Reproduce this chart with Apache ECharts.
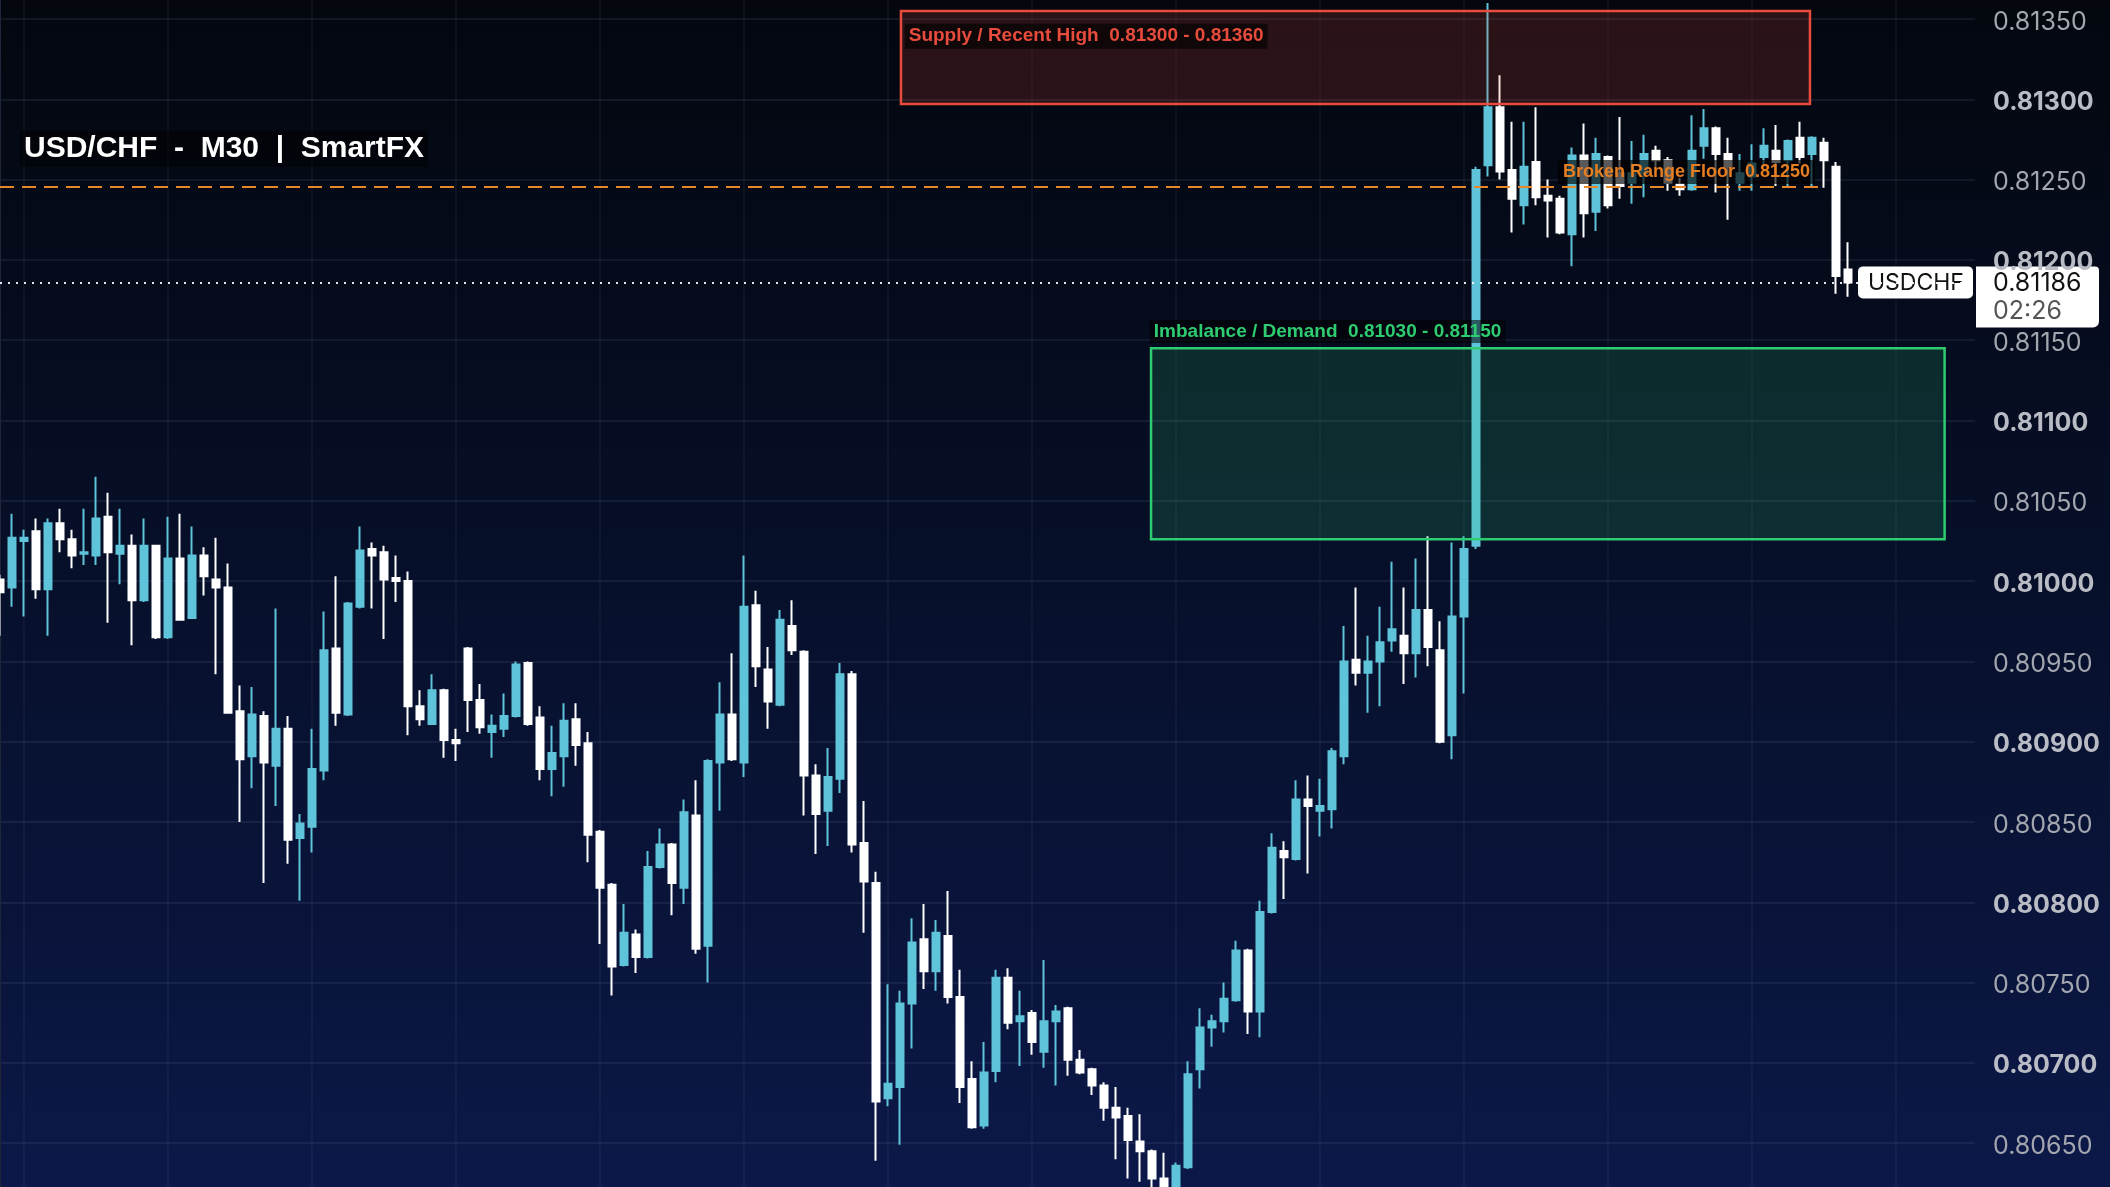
<!DOCTYPE html>
<html><head><meta charset="utf-8">
<script src="https://cdn.jsdelivr.net/npm/echarts/dist/echarts.min.js"></script>
<style>html,body{margin:0;padding:0;background:#04070e;overflow:hidden}#c{width:2110px;height:1187px}</style>
</head><body><div id="c"></div>
<script>
// ---- DATA (USD/CHF M30) ----
const opens = [0.81001,0.80996,0.81025,0.81031,0.80995,0.81036,0.81026,0.81017,0.81016,0.81040,
0.81017,0.81022,0.80988,0.81022,0.80965,0.81014,0.80977,0.81016,0.81001,0.80996,
0.80919,0.80891,0.80916,0.80885,0.80908,0.80840,0.80847,0.80882,0.80958,0.80917,
0.80984,0.81020,0.81018,0.81002,0.81000,0.80922,0.80911,0.80932,0.80901,0.80958,
0.80926,0.80906,0.80908,0.80916,0.80949,0.80915,0.80883,0.80891,0.80914,0.80899,
0.80844,0.80811,0.80761,0.80780,0.80766,0.80822,0.80836,0.80809,0.80854,0.80773,
0.80887,0.80917,0.80887,0.80985,0.80945,0.80923,0.80972,0.80956,0.80879,0.80857,
0.80877,0.80942,0.80837,0.80812,0.80678,0.80685,0.80737,0.80777,0.80757,0.80779,
0.80741,0.80690,0.80661,0.80695,0.80753,0.80726,0.80731,0.80707,0.80726,0.80734,
0.80702,0.80696,0.80686,0.80672,0.80667,0.80651,0.80645,0.80628,0.80615,0.80635,
0.80696,0.80722,0.80726,0.80739,0.80770,0.80732,0.80794,0.80832,0.80827,0.80864,
0.80857,0.80858,0.80891,0.80951,0.80943,0.80950,0.80963,0.80966,0.80955,0.80982,
0.80957,0.80904,0.80978,0.81022,0.81259,0.81295,0.81256,0.81234,0.81261,0.81240,
0.81238,0.81216,0.81265,0.81230,0.81264,0.81254,0.81248,0.81254,0.81268,0.81262,
0.81247,0.81244,0.81271,0.81282,0.81266,0.81248,0.81252,0.81264,0.81268,0.81262,
0.81276,0.81266,0.81273,0.81258,0.81194];
const closes = [0.80993,0.81027,0.81027,0.80995,0.81036,0.81026,0.81016,0.81018,0.81039,0.81018,
0.81022,0.80988,0.81022,0.80965,0.81014,0.80976,0.81016,0.81003,0.80996,0.80918,
0.80889,0.80917,0.80887,0.80908,0.80839,0.80849,0.80883,0.80957,0.80918,0.80986,
0.81019,0.81016,0.81001,0.81000,0.80922,0.80914,0.80932,0.80901,0.80899,0.80926,
0.80909,0.80910,0.80916,0.80948,0.80911,0.80883,0.80893,0.80913,0.80898,0.80842,
0.80809,0.80760,0.80781,0.80766,0.80822,0.80836,0.80812,0.80856,0.80771,0.80888,
0.80917,0.80889,0.80984,0.80947,0.80925,0.80976,0.80957,0.80879,0.80855,0.80878,
0.80942,0.80836,0.80813,0.80676,0.80687,0.80737,0.80775,0.80757,0.80781,0.80741,
0.80685,0.80660,0.80694,0.80753,0.80725,0.80729,0.80713,0.80726,0.80732,0.80702,
0.80694,0.80686,0.80672,0.80666,0.80652,0.80645,0.80628,0.80615,0.80636,0.80693,
0.80722,0.80726,0.80740,0.80770,0.80732,0.80794,0.80834,0.80828,0.80864,0.80860,
0.80860,0.80894,0.80950,0.80943,0.80950,0.80962,0.80970,0.80955,0.80982,0.80959,
0.80900,0.80978,0.81020,0.81256,0.81295,0.81255,0.81238,0.81258,0.81239,0.81237,
0.81217,0.81265,0.81229,0.81266,0.81234,0.81246,0.81254,0.81266,0.81262,0.81248,
0.81244,0.81268,0.81282,0.81266,0.81258,0.81254,0.81260,0.81271,0.81261,0.81274,
0.81264,0.81276,0.81262,0.81190,0.81186];
const lows = [0.80966,0.80984,0.80978,0.80989,0.80966,0.81018,0.81008,0.81010,0.81010,0.80974,
0.80998,0.80960,0.80987,0.80964,0.80964,0.80976,0.80977,0.80991,0.80942,0.80918,
0.80850,0.80871,0.80812,0.80860,0.80824,0.80801,0.80831,0.80876,0.80910,0.80916,
0.80983,0.80983,0.80964,0.80987,0.80904,0.80910,0.80911,0.80890,0.80888,0.80906,
0.80905,0.80890,0.80903,0.80915,0.80910,0.80876,0.80866,0.80872,0.80885,0.80825,
0.80774,0.80742,0.80760,0.80756,0.80765,0.80821,0.80792,0.80799,0.80768,0.80750,
0.80857,0.80888,0.80878,0.80934,0.80908,0.80922,0.80954,0.80854,0.80830,0.80835,
0.80868,0.80831,0.80781,0.80639,0.80673,0.80649,0.80709,0.80746,0.80745,0.80737,
0.80675,0.80659,0.80659,0.80688,0.80721,0.80698,0.80705,0.80697,0.80686,0.80692,
0.80693,0.80680,0.80664,0.80640,0.80628,0.80626,0.80620,0.80610,0.80610,0.80634,
0.80684,0.80710,0.80719,0.80738,0.80718,0.80716,0.80793,0.80802,0.80826,0.80818,
0.80841,0.80846,0.80886,0.80935,0.80918,0.80922,0.80956,0.80936,0.80940,0.80947,
0.80899,0.80889,0.80930,0.81020,0.81252,0.81250,0.81217,0.81222,0.81234,0.81214,
0.81216,0.81196,0.81214,0.81218,0.81232,0.81238,0.81235,0.81239,0.81258,0.81243,
0.81240,0.81243,0.81263,0.81242,0.81225,0.81243,0.81243,0.81258,0.81246,0.81246,
0.81260,0.81246,0.81245,0.81179,0.81177];
const highs = [0.81004,0.81042,0.81032,0.81039,0.81039,0.81045,0.81032,0.81045,0.81065,0.81055,
0.81045,0.81029,0.81039,0.81022,0.81040,0.81042,0.81034,0.81021,0.81027,0.81011,
0.80935,0.80934,0.80919,0.80983,0.80916,0.80855,0.80908,0.80981,0.81003,0.80987,
0.81034,0.81024,0.81022,0.81016,0.81006,0.80932,0.80942,0.80933,0.80908,0.80959,
0.80936,0.80917,0.80930,0.80950,0.80950,0.80922,0.80910,0.80924,0.80924,0.80906,
0.80845,0.80812,0.80799,0.80783,0.80832,0.80846,0.80837,0.80864,0.80876,0.80889,
0.80937,0.80955,0.81016,0.80994,0.80959,0.80982,0.80988,0.80957,0.80886,0.80896,
0.80949,0.80944,0.80863,0.80819,0.80749,0.80745,0.80790,0.80799,0.80789,0.80807,
0.80758,0.80701,0.80713,0.80758,0.80759,0.80745,0.80733,0.80764,0.80736,0.80735,
0.80708,0.80697,0.80688,0.80685,0.80672,0.80668,0.80646,0.80644,0.80638,0.80701,
0.80734,0.80730,0.80750,0.80776,0.80771,0.80801,0.80843,0.80838,0.80876,0.80879,
0.80877,0.80896,0.80972,0.80996,0.80966,0.80984,0.81012,0.80996,0.81014,0.81028,
0.80975,0.81024,0.81028,0.81258,0.81360,0.81315,0.81286,0.81286,0.81295,0.81250,
0.81240,0.81270,0.81285,0.81276,0.81265,0.81289,0.81274,0.81278,0.81271,0.81264,
0.81251,0.81290,0.81294,0.81283,0.81276,0.81266,0.81272,0.81282,0.81284,0.81275,
0.81286,0.81277,0.81276,0.81261,0.81211];

// zones & levels (as drawn)
const supplyZone = { x0: 75.08, x1: 150.83, top: 0.81355, bottom: 0.81297, text: 'Supply / Recent High  0.81300 - 0.81360' };
const demandZone = { x0: 95.92, x1: 162.05, top: 0.81145, bottom: 0.81026, text: 'Imbalance / Demand  0.81030 - 0.81150' };
const floorLevel = { price: 0.812454, x1: 151.5, text: 'Broken Range Floor  0.81250' };
const lastPrice = 0.81186;
const symbolName = 'USDCHF';
const countdown = '02:26';
const titleText = 'USD/CHF  -  M30  |  SmartFX';
const yMin = 0.8060, yMax = 0.8140, yStep = 0.0005;
const xMax = 164.583;
const vGridStart = 2, vGridEvery = 12;

// ---- CHART ----
const UP = '#5fc4d9', DOWN = '#ffffff';
const candles = opens.map((o, i) => [i, o, closes[i], lows[i], highs[i]]);
const vGrid = [];
for (let x = vGridStart; x < xMax; x += vGridEvery) vGrid.push({ xAxis: x });

const chart = echarts.init(document.getElementById('c'), null, { renderer: 'canvas' });
const option = {
  animation: false,
  backgroundColor: { type: 'linear', x: 0, y: 0, x2: 0, y2: 1,
    colorStops: [{ offset: 0, color: '#04070e' }, { offset: 0.5, color: '#07102b' }, { offset: 1, color: '#0c1848' }] },
  title: {
    text: titleText, left: 20, top: 131, padding: [3, 4],
    backgroundColor: 'rgba(0,0,0,0.5)',
    textStyle: { color: '#ffffff', fontSize: 30, fontWeight: 'bold', fontFamily: 'Liberation Sans, Arial, sans-serif' }
  },
  grid: { left: 0, right: 135, top: -61.3, bottom: -36.5, containLabel: false, outerBoundsMode: 'none' },
  xAxis: { type: 'value', min: 0, max: xMax, show: false, splitLine: { show: false } },
  yAxis: {
    type: 'value', position: 'right', min: yMin, max: yMax, interval: yStep, scale: true,
    axisLine: { show: true, lineStyle: { color: '#20263a', width: 2 } },
    axisTick: { show: false },
    splitLine: { show: true, lineStyle: { color: 'rgba(150,165,210,0.10)', width: 2 } },
    axisLabel: {
      margin: 18, showMinLabel: true, showMaxLabel: true,
      formatter: v => {
        const s = v.toFixed(5);
        return (Math.round(v * 100000) % 100 === 0) ? '{b|' + s + '}' : '{n|' + s + '}';
      },
      rich: {
        b: { color: '#b9bcc4', fontSize: 25, fontWeight: 'bold', fontFamily: 'Inter, Roboto, sans-serif', padding: [6, 0, 0, 0] },
        n: { color: '#a3a6ae', fontSize: 25, fontFamily: 'Inter, Roboto, sans-serif', padding: [6, 0, 0, 0] }
      }
    }
  },
  series: [
    { type: 'line', data: [], z: 1, silent: true,
      markLine: { z: 1, silent: true, symbol: ['none', 'none'], label: { show: false },
        lineStyle: { color: 'rgba(255,255,255,0.035)', width: 2, type: 'solid' }, data: vGrid } },
    { type: 'candlestick', z: 2, barWidth: 8,
      dimensions: ['idx', 'open', 'close', 'lowest', 'highest'],
      encode: { x: 'idx', y: ['open', 'close', 'lowest', 'highest'] },
      data: candles,
      itemStyle: { color: UP, color0: DOWN, borderColor: UP, borderColor0: DOWN, borderWidth: 2 } },
    { type: 'line', data: [], z: 10, silent: true,
      markArea: { z: 10, silent: true, data: [
        [{ xAxis: supplyZone.x0, yAxis: supplyZone.top,
           itemStyle: { color: 'rgba(231,76,60,0.17)', borderColor: '#e74c3c', borderWidth: 2.5 },
           label: { show: true, position: [5, 14], formatter: supplyZone.text, color: '#e74c3c', fontSize: 19, fontWeight: 'bold',
             fontFamily: 'Liberation Sans, Arial, sans-serif', backgroundColor: 'rgba(0,0,0,0.6)', padding: [3, 4] } },
         { xAxis: supplyZone.x1, yAxis: supplyZone.bottom }],
        [{ xAxis: demandZone.x0, yAxis: demandZone.top,
           itemStyle: { color: 'rgba(46,204,113,0.17)', borderColor: '#2ecc71', borderWidth: 2.5 },
           label: { show: true, position: [0, -27], formatter: demandZone.text, color: '#2ecc71', fontSize: 19, fontWeight: 'bold',
             fontFamily: 'Liberation Sans, Arial, sans-serif', backgroundColor: 'rgba(0,0,0,0.55)', padding: [2, 4] } },
         { xAxis: demandZone.x1, yAxis: demandZone.bottom }]
      ] },
      markLine: { z: 11, silent: true, symbol: ['none', 'none'], data: [
        [{ coord: [0, floorLevel.price], lineStyle: { color: '#e8862a', width: 2, type: [14, 8] },
           label: { show: true, position: 'insideEndTop', distance: 3, formatter: floorLevel.text, color: '#e67e22', fontSize: 18, fontWeight: 'bold',
             fontFamily: 'Liberation Sans, Arial, sans-serif', backgroundColor: 'rgba(0,0,0,0.65)', padding: [3, 5] } },
         { coord: [floorLevel.x1, floorLevel.price] }],
        [{ coord: [0, lastPrice], lineStyle: { color: 'rgba(255,255,255,0.9)', width: 2, type: [2, 6] }, label: { show: false } },
         { coord: [xMax, lastPrice] }]
      ] } }
  ]
};
chart.setOption(option);

const py = chart.convertToPixel({ yAxisIndex: 0 }, lastPrice);
const gx = chart.convertToPixel({ xAxisIndex: 0 }, xMax);
chart.setOption({
  graphic: [{
    type: 'group', z: 100, children: [
      { type: 'rect', shape: { x: gx - 117, y: py - 16, width: 115, height: 32, r: 5 }, style: { fill: '#ffffff' } },
      { type: 'text', x: gx - 107, y: py + 1, style: { text: symbolName, fill: '#111111', font: '23px Inter, Roboto, sans-serif', verticalAlign: 'middle' } },
      { type: 'rect', shape: { x: gx + 1, y: py - 16, width: 123, height: 61, r: [0, 4, 6, 0] }, style: { fill: '#ffffff' } },
      { type: 'text', x: gx + 18, y: py + 1, style: { text: lastPrice.toFixed(5), fill: '#111111', font: '25px Inter, Roboto, sans-serif', verticalAlign: 'middle' } },
      { type: 'text', x: gx + 18, y: py + 29, style: { text: countdown, fill: '#555555', font: '25px Inter, Roboto, sans-serif', verticalAlign: 'middle' } }
    ]
  }]
});
</script></body></html>
